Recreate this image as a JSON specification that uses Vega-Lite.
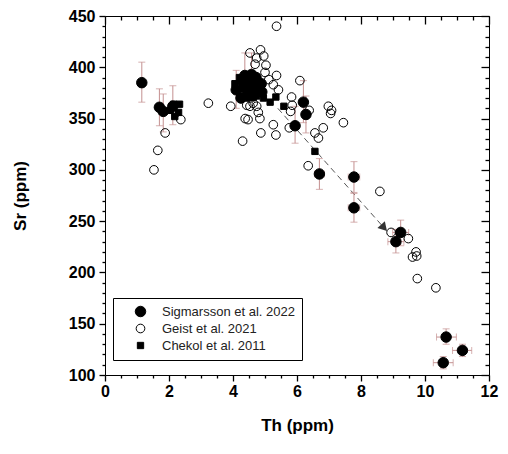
{
"$schema":"https://vega.github.io/schema/vega-lite/v6.json",
"width":384,"height":359,
"autosize":{"type":"none"},
"padding":{"left":105,"top":16,"right":19,"bottom":79},
"background":"white",
"config":{
 "view":{"stroke":"black","strokeWidth":1},
 "font":"Liberation Sans",
 "axis":{"domainColor":"black","ticks":true,"tickColor":"#000000","tickOpacity":1,"labelColor":"black","titleColor":"black","labelFont":"Liberation Sans","titleFont":"Liberation Sans","labelFontWeight":"bold","titleFontWeight":"bold","labelFontSize":16,"titleFontSize":17,"grid":false,"labelOverlap":false,"labelFlush":false,"tickWidth":1.3,"domain":false},
 "legend":{"orient":"none","legendX":8,"legendY":282,"strokeColor":"black","fillColor":"white","padding":7,"rowPadding":3,"labelFont":"Liberation Sans","labelFontSize":13,"labelColor":"#222","symbolStrokeColor":"black","symbolStrokeWidth":1,"symbolOffset":14,"labelOffset":15,"title":null}
},
"datasets":{
 "arrow":[{"th":5.4,"sr":360},{"th":8.72,"sr":243.5}],
 "head":[{"th":8.72,"sr":243.5}],
 "pts":[
  {"src":"Geist et al. 2021","th":1.53,"sr":300},{"src":"Geist et al. 2021","th":1.65,"sr":319},{"src":"Geist et al. 2021","th":1.88,"sr":336},{"src":"Geist et al. 2021","th":2.37,"sr":349},{"src":"Geist et al. 2021","th":3.23,"sr":365},{"src":"Geist et al. 2021","th":3.93,"sr":362},{"src":"Geist et al. 2021","th":4.30,"sr":328},{"src":"Geist et al. 2021","th":4.38,"sr":350},{"src":"Geist et al. 2021","th":4.47,"sr":349},{"src":"Geist et al. 2021","th":4.43,"sr":363},{"src":"Geist et al. 2021","th":4.53,"sr":362},{"src":"Geist et al. 2021","th":4.63,"sr":365},{"src":"Geist et al. 2021","th":4.74,"sr":362},{"src":"Geist et al. 2021","th":4.79,"sr":356},{"src":"Geist et al. 2021","th":4.87,"sr":336},{"src":"Geist et al. 2021","th":4.84,"sr":350},{"src":"Geist et al. 2021","th":4.53,"sr":414},{"src":"Geist et al. 2021","th":4.74,"sr":409},{"src":"Geist et al. 2021","th":4.86,"sr":417},{"src":"Geist et al. 2021","th":4.96,"sr":411},{"src":"Geist et al. 2021","th":5.03,"sr":402},{"src":"Geist et al. 2021","th":4.69,"sr":403},{"src":"Geist et al. 2021","th":5.00,"sr":395},{"src":"Geist et al. 2021","th":5.36,"sr":392},{"src":"Geist et al. 2021","th":5.12,"sr":388},{"src":"Geist et al. 2021","th":5.26,"sr":383},{"src":"Geist et al. 2021","th":5.42,"sr":378},{"src":"Geist et al. 2021","th":5.36,"sr":440},{"src":"Geist et al. 2021","th":5.26,"sr":344},{"src":"Geist et al. 2021","th":5.34,"sr":334},{"src":"Geist et al. 2021","th":5.76,"sr":341},{"src":"Geist et al. 2021","th":5.80,"sr":357},{"src":"Geist et al. 2021","th":5.85,"sr":363},{"src":"Geist et al. 2021","th":5.83,"sr":371},{"src":"Geist et al. 2021","th":6.09,"sr":387},{"src":"Geist et al. 2021","th":6.38,"sr":358},{"src":"Geist et al. 2021","th":6.98,"sr":362},{"src":"Geist et al. 2021","th":7.05,"sr":355},{"src":"Geist et al. 2021","th":7.08,"sr":358},{"src":"Geist et al. 2021","th":7.45,"sr":346},{"src":"Geist et al. 2021","th":6.82,"sr":341},{"src":"Geist et al. 2021","th":6.56,"sr":336},{"src":"Geist et al. 2021","th":6.67,"sr":331},{"src":"Geist et al. 2021","th":6.35,"sr":304},{"src":"Geist et al. 2021","th":8.59,"sr":279},{"src":"Geist et al. 2021","th":8.94,"sr":239},{"src":"Geist et al. 2021","th":9.48,"sr":233},{"src":"Geist et al. 2021","th":9.61,"sr":215},{"src":"Geist et al. 2021","th":9.72,"sr":220},{"src":"Geist et al. 2021","th":9.74,"sr":216},{"src":"Geist et al. 2021","th":9.76,"sr":194},{"src":"Geist et al. 2021","th":10.34,"sr":185},
  {"src":"Chekol et al. 2011","th":2.05,"sr":358},{"src":"Chekol et al. 2011","th":2.15,"sr":364},{"src":"Chekol et al. 2011","th":2.33,"sr":364},{"src":"Chekol et al. 2011","th":2.18,"sr":352},{"src":"Chekol et al. 2011","th":2.30,"sr":356},
  {"src":"Chekol et al. 2011","th":4.06,"sr":384},{"src":"Chekol et al. 2011","th":4.10,"sr":378},{"src":"Chekol et al. 2011","th":4.20,"sr":390},{"src":"Chekol et al. 2011","th":4.32,"sr":371},{"src":"Chekol et al. 2011","th":4.50,"sr":372},{"src":"Chekol et al. 2011","th":4.74,"sr":372},{"src":"Chekol et al. 2011","th":4.95,"sr":370},{"src":"Chekol et al. 2011","th":5.16,"sr":366},{"src":"Chekol et al. 2011","th":5.34,"sr":371},{"src":"Chekol et al. 2011","th":5.59,"sr":362},{"src":"Chekol et al. 2011","th":6.56,"sr":318},{"src":"Chekol et al. 2011","th":4.60,"sr":382},{"src":"Chekol et al. 2011","th":4.85,"sr":378},
  {"src":"Sigmarsson et al. 2022","th":1.15,"sr":385,"slo":366,"shi":405},
  {"src":"Sigmarsson et al. 2022","th":1.70,"sr":361,"slo":343,"shi":379},
  {"src":"Sigmarsson et al. 2022","th":1.82,"sr":357,"slo":337,"shi":374},
  {"src":"Sigmarsson et al. 2022","th":2.12,"sr":362,"slo":344,"shi":382},
  {"src":"Sigmarsson et al. 2022","th":4.10,"sr":378,"slo":360,"shi":397},
  {"src":"Sigmarsson et al. 2022","th":4.37,"sr":392,"slo":372,"shi":414},
  {"src":"Sigmarsson et al. 2022","th":4.58,"sr":393,"slo":373,"shi":414},
  {"src":"Sigmarsson et al. 2022","th":4.30,"sr":386},{"src":"Sigmarsson et al. 2022","th":4.50,"sr":386},{"src":"Sigmarsson et al. 2022","th":4.72,"sr":390},{"src":"Sigmarsson et al. 2022","th":4.35,"sr":380},{"src":"Sigmarsson et al. 2022","th":4.55,"sr":378},{"src":"Sigmarsson et al. 2022","th":4.70,"sr":380},{"src":"Sigmarsson et al. 2022","th":4.88,"sr":384},{"src":"Sigmarsson et al. 2022","th":4.45,"sr":372},{"src":"Sigmarsson et al. 2022","th":4.62,"sr":372},{"src":"Sigmarsson et al. 2022","th":4.90,"sr":376},{"src":"Sigmarsson et al. 2022","th":4.25,"sr":370},
  {"src":"Sigmarsson et al. 2022","th":5.94,"sr":343,"slo":326,"shi":362},
  {"src":"Sigmarsson et al. 2022","th":6.20,"sr":366,"slo":346,"shi":387},
  {"src":"Sigmarsson et al. 2022","th":6.28,"sr":354,"slo":336,"shi":372},
  {"src":"Sigmarsson et al. 2022","th":6.70,"sr":296,"slo":281,"shi":311,"tlo":6.55,"thi":6.85},
  {"src":"Sigmarsson et al. 2022","th":7.78,"sr":293,"slo":278,"shi":308,"tlo":7.60,"thi":7.96},
  {"src":"Sigmarsson et al. 2022","th":7.78,"sr":263,"slo":249,"shi":277,"tlo":7.60,"thi":7.96},
  {"src":"Sigmarsson et al. 2022","th":9.24,"sr":239,"slo":226,"shi":251,"tlo":8.99,"thi":9.49},
  {"src":"Sigmarsson et al. 2022","th":9.09,"sr":230,"slo":219,"shi":242,"tlo":8.84,"thi":9.34},
  {"src":"Sigmarsson et al. 2022","th":10.66,"sr":137,"slo":130,"shi":145,"tlo":10.36,"thi":10.98},
  {"src":"Sigmarsson et al. 2022","th":11.17,"sr":124,"slo":118,"shi":130,"tlo":10.86,"thi":11.46},
  {"src":"Sigmarsson et al. 2022","th":10.57,"sr":112,"slo":106,"shi":118,"tlo":10.26,"thi":10.88}
 ]
},
"resolve":{"axis":{"x":"independent","y":"independent"}},
"layer":[
 {"data":{"name":"arrow"},
  "mark":{"type":"line","color":"#555555","strokeDash":[6,4],"strokeWidth":1},
  "encoding":{
   "x":{"field":"th","type":"quantitative","scale":{"domain":[0,12],"nice":false,"zero":false},
        "axis":{"orient":"bottom","values":[0,2,4,6,8,10,12],"format":"d","tickSize":6,
                "labelPadding":2,"title":"Th (ppm)","titlePadding":18}},
   "y":{"field":"sr","type":"quantitative","scale":{"domain":[100,450],"nice":false,"zero":false},
        "axis":{"orient":"left","values":[100,150,200,250,300,350,400,450],"format":"d","tickSize":6,
                "labelPadding":4,"title":"Sr (ppm)","titlePadding":39}}
  }},
 {"data":{"name":"head"},
  "mark":{"type":"point","shape":"triangle-up","angle":138,"filled":true,"color":"#333333","size":100,"opacity":1},
  "encoding":{
   "x":{"field":"th","type":"quantitative",
        "axis":{"orient":"top","values":[0,2,4,6,8,10,12],"labels":false,"title":null,"offset":-8,"tickSize":8}},
   "y":{"field":"sr","type":"quantitative",
        "axis":{"orient":"right","values":[100,150,200,250,300,350,400,450],"labels":false,"title":null,"offset":-8,"tickSize":8}}
  }},
 {"data":{"name":"pts"},
  "transform":[{"filter":"isValid(datum.slo)"}],
  "mark":{"type":"errorbar","color":"#c49090","ticks":{"size":7},"thickness":1},
  "encoding":{
   "x":{"field":"th","type":"quantitative",
        "axis":{"orient":"bottom","values":[0.5,1,1.5,2.5,3,3.5,4.5,5,5.5,6.5,7,7.5,8.5,9,9.5,10.5,11,11.5],"labels":false,"title":null,"tickSize":3}},
   "y":{"field":"slo","type":"quantitative",
        "axis":{"orient":"left","values":[110,120,130,140,160,170,180,190,210,220,230,240,260,270,280,290,310,320,330,340,360,370,380,390,410,420,430,440],"labels":false,"title":null,"tickSize":3}},
   "y2":{"field":"shi"}
  }},
 {"data":{"name":"pts"},
  "transform":[{"filter":"isValid(datum.tlo)"}],
  "mark":{"type":"errorbar","color":"#c49090","ticks":{"size":7},"thickness":1},
  "encoding":{
   "y":{"field":"sr","type":"quantitative",
        "axis":{"orient":"right","values":[110,120,130,140,160,170,180,190,210,220,230,240,260,270,280,290,310,320,330,340,360,370,380,390,410,420,430,440],"labels":false,"title":null,"offset":-4,"tickSize":4}},
   "x":{"field":"tlo","type":"quantitative",
        "axis":{"orient":"top","values":[0.5,1,1.5,2.5,3,3.5,4.5,5,5.5,6.5,7,7.5,8.5,9,9.5,10.5,11,11.5],"labels":false,"title":null,"offset":-4,"tickSize":4}},
   "x2":{"field":"thi"}
  }},
 {"data":{"name":"pts"},
  "mark":{"type":"point","filled":true,"stroke":"black","strokeWidth":1,"opacity":1,"fillOpacity":1},
  "encoding":{
   "x":{"field":"th","type":"quantitative","axis":null},
   "y":{"field":"sr","type":"quantitative","axis":null},
   "shape":{"field":"src","type":"nominal","scale":{"domain":["Sigmarsson et al. 2022","Geist et al. 2021","Chekol et al. 2011"],"range":["circle","circle","square"]}},
   "fill":{"field":"src","type":"nominal","scale":{"domain":["Sigmarsson et al. 2022","Geist et al. 2021","Chekol et al. 2011"],"range":["black","transparent","black"]}},
   "stroke":{"field":"src","type":"nominal","scale":{"domain":["Sigmarsson et al. 2022","Geist et al. 2021","Chekol et al. 2011"],"range":["black","black","black"]}},
   "size":{"field":"src","type":"nominal","scale":{"domain":["Sigmarsson et al. 2022","Geist et al. 2021","Chekol et al. 2011"],"range":[110,40,60]}}
  }}
]
}
